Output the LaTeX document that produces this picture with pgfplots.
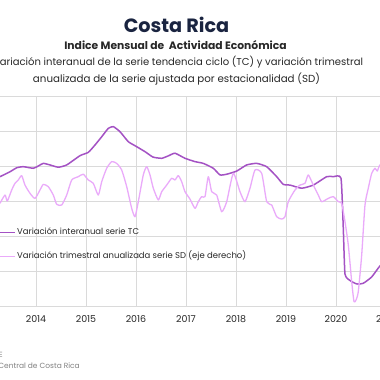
\documentclass[border=0pt]{standalone}
\usepackage{fontspec}
\setmainfont{Poppins}
\usepackage{pgfplots}
\pgfplotsset{compat=1.18}
\definecolor{tc}{RGB}{164,82,196}
\definecolor{sd}{RGB}{234,170,250}
\definecolor{gridgray}{RGB}{218,218,218}
\definecolor{zerogray}{RGB}{168,168,168}
\definecolor{navy}{RGB}{26,36,64}
\definecolor{txt}{RGB}{40,40,40}
\definecolor{src}{RGB}{130,130,130}
\begin{document}
\begin{tikzpicture}
\useasboundingbox (0,0) rectangle (380bp,380bp);
\clip (0,0) rectangle (380bp,380bp);
\fill[white] (0,0) rectangle (380bp,380bp);
\node[navy,font=\fontsize{19.3}{22}\selectfont\bfseries] at (176.5bp,355bp) {Costa Rica};
\node[txt,font=\fontsize{10.8}{12}\selectfont\bfseries] at (175.5bp,335bp) {Indice Mensual de\ \ Actividad Económica};
\node[txt,font=\fontsize{10.4}{12}\selectfont] at (178bp,318bp) {\resizebox{370bp}{!}{Variación interanual de la serie tendencia ciclo (TC) y variación trimestral}};
\node[txt,font=\fontsize{10.4}{12}\selectfont] at (176.5bp,301bp) {\resizebox{287bp}{!}{anualizada de la serie ajustada por estacionalidad (SD)}};
\node[src,font=\fontsize{7.5}{9}\selectfont,anchor=base east,inner sep=0pt] at (3bp,23bp) {Fuente: IMAE};
\node[src,font=\fontsize{7.5}{9}\selectfont,anchor=base east,inner sep=0pt] at (80bp,12bp) {Banco Central de Costa Rica};
\begin{axis}[
  at={(-14bp,74bp)}, anchor=south west,
  scale only axis, width=450bp, height=210bp,
  xmin=2013, xmax=2022, ymin=-6, ymax=6,
  xtick={2014,2015,2016,2017,2018,2019,2020,2021},
  xticklabels={2014,2015,2016,2017,2018,2019,2020,2021},
  ytick={-6,-4,-2,2,4,6}, yticklabels={},
  extra y ticks={0}, extra y tick labels={},
  extra y tick style={grid style={draw=zerogray, line width=1.5bp}},
  grid=major, major grid style={draw=gridgray, line width=0.8bp},
  axis line style={draw=none}, major tick length=0pt,
  /pgf/number format/assume math mode=true,
  xticklabel style={font=\fontsize{9.5}{10}\selectfont, text=txt, anchor=north, yshift=-6bp},
  legend style={at={(axis description cs:0.0244,0.292)}, anchor=west, draw=none, fill=none,
    inner sep=0pt, row sep=16bp, column sep=1.5bp, font=\fontsize{8.5}{10}\selectfont, text=txt,
    nodes={inner sep=0pt, text height=6bp, text depth=2bp}},
  legend cell align=left,
  legend image code/.code={\draw[#1] (0bp,0bp) -- (17bp,0bp);},
]
\addplot[tc, line width=1.5bp, line join=round, smooth, tension=0.3] coordinates {
(2013.28,1.39) (2013.48,1.67) (2013.614,1.90) (2013.746,1.96) (2013.946,1.87) (2014.046,2.00)
(2014.146,2.15) (2014.28,2.06) (2014.446,1.93) (2014.614,2.06) (2014.88,2.59) (2015.046,2.78)
(2015.18,3.20) (2015.314,3.67) (2015.446,4.15) (2015.546,4.25) (2015.68,3.96) (2015.846,3.39)
(2015.98,3.16) (2016.18,2.82) (2016.34,2.51) (2016.514,2.44) (2016.64,2.57) (2016.78,2.73)
(2016.98,2.44) (2017.18,2.25) (2017.346,2.15) (2017.546,1.87) (2017.68,1.49) (2017.814,1.53)
(2018.014,1.71) (2018.214,2.06) (2018.414,2.15) (2018.614,1.96) (2018.814,1.39) (2018.946,0.95)
(2019.08,0.91) (2019.314,0.73) (2019.546,0.91) (2019.814,1.39) (2019.946,1.39) (2020.10,1.30)
(2020.146,-1.56) (2020.18,-4.17) (2020.28,-4.54) (2020.414,-4.74) (2020.546,-4.70) (2020.714,-4.34)
(2020.88,-3.71) (2021.08,-3.26)
};
\addlegendentry{Variación interanual serie TC}
\addplot[sd, line width=1.3bp, line join=round, smooth, tension=0.35] coordinates {
(2013.28,-0.13) (2013.38,0.34) (2013.426,0.0) (2013.514,0.63) (2013.58,1.01) (2013.646,1.20)
(2013.714,1.45) (2013.78,0.91) (2013.88,0.44) (2013.98,0.15) (2014.08,0.63) (2014.146,0.95)
(2014.246,0.82) (2014.346,0.34) (2014.414,-0.19) (2014.514,-0.23) (2014.614,0.34) (2014.714,1.20)
(2014.846,1.39) (2014.946,1.53) (2015.046,1.20) (2015.146,1.01) (2015.246,0.34) (2015.314,1.10)
(2015.414,1.87) (2015.514,2.25) (2015.614,2.15) (2015.714,1.77) (2015.814,0.82) (2015.914,-0.42)
(2015.98,-0.90) (2016.046,-0.04) (2016.146,1.49) (2016.214,1.96) (2016.28,1.49) (2016.346,0.73)
(2016.446,0.06) (2016.514,0.53) (2016.614,0.91) (2016.714,1.30) (2016.78,1.20) (2016.846,1.45)
(2016.914,1.10) (2016.98,0.53) (2017.08,0.11) (2017.18,-0.42) (2017.246,-0.04) (2017.314,0.25)
(2017.38,0.25) (2017.446,1.39) (2017.514,0.53) (2017.614,0.34) (2017.714,-0.61) (2017.814,-0.04)
(2017.946,1.58) (2018.08,0.53) (2018.18,-0.04) (2018.28,0.73) (2018.38,1.77) (2018.514,1.58)
(2018.614,-0.04) (2018.714,-0.23) (2018.814,-0.90) (2018.914,-1.03) (2018.98,-0.90) (2019.046,-0.04)
(2019.18,0.63) (2019.28,0.91) (2019.38,1.01) (2019.446,1.49) (2019.546,0.91) (2019.646,0.34)
(2019.714,-0.04) (2019.846,0.15) (2019.946,0.25) (2020.046,-0.04) (2020.114,-0.13) (2020.18,-1.18)
(2020.246,-2.51) (2020.314,-4.61) (2020.36,-5.75) (2020.40,-5.66) (2020.446,-5.18) (2020.514,-3.09)
(2020.58,-0.23) (2020.646,0.73) (2020.714,1.58) (2020.78,1.87) (2020.826,1.71) (2020.88,2.06)
(2021.08,2.34)
};
\addlegendentry{Variación trimestral anualizada serie SD (eje derecho)}
\end{axis}
\end{tikzpicture}
\end{document}
